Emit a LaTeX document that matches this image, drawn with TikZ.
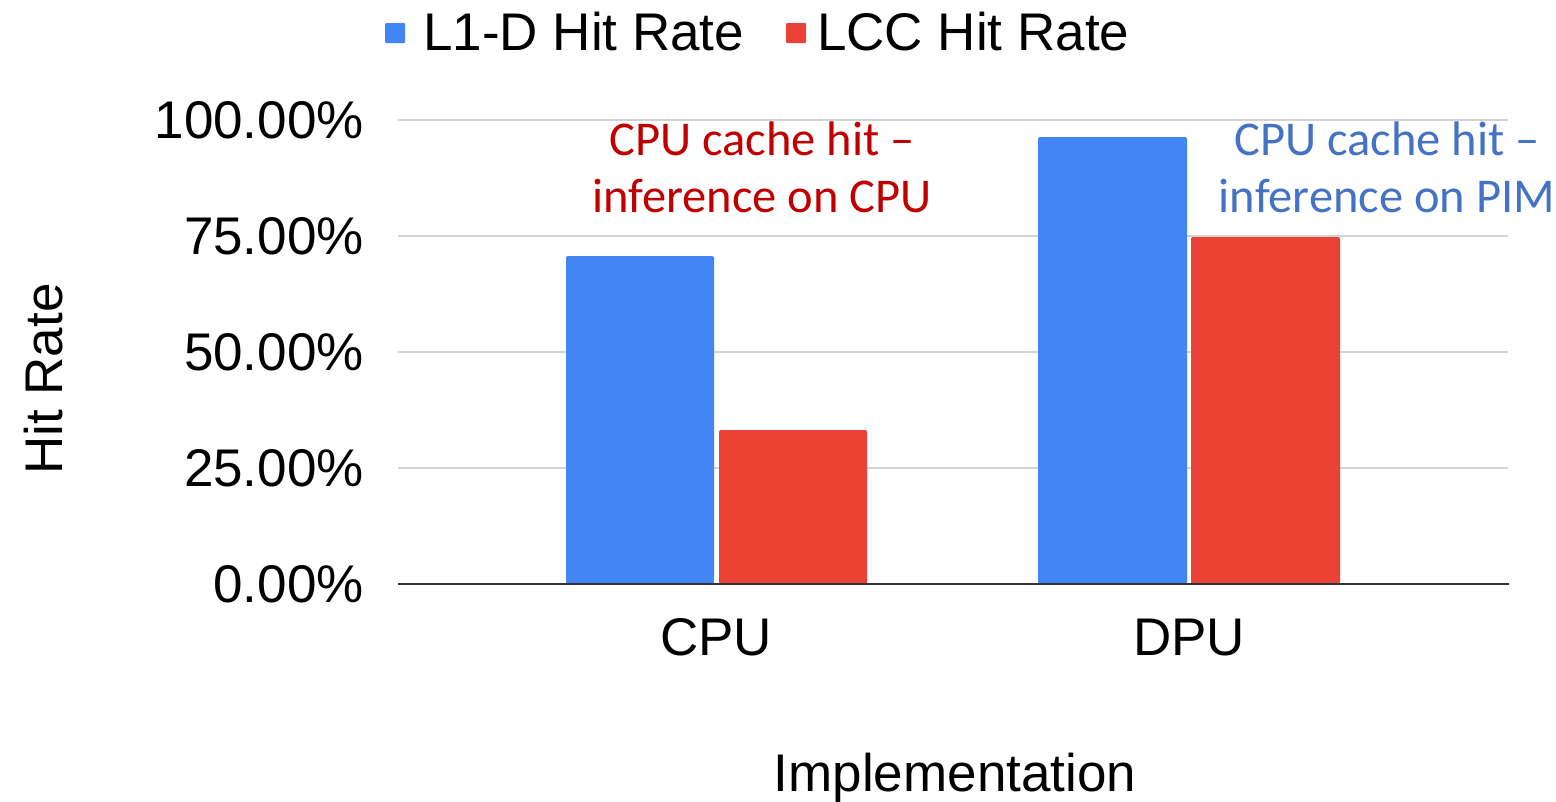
\documentclass[tikz,border=0pt]{standalone}
\usepackage{fontspec}
\setmainfont{Liberation Sans}
\newfontfamily\notefont{Carlito}
\definecolor{barblue}{HTML}{4285F4}
\definecolor{barred}{HTML}{EA4335}
\definecolor{gridgray}{HTML}{D3D3D3}
\definecolor{axisgray}{HTML}{333333}
\definecolor{notered}{HTML}{C00000}
\definecolor{noteblue}{HTML}{4472C4}

\begin{document}
\begin{tikzpicture}[x=1pt,y=-1pt,
  lbl/.style={font=\fontsize{53}{60}\selectfont, inner sep=0pt},
  note/.style={font=\notefont\fontsize{48.5}{57}\selectfont, align=center, inner sep=0pt},
  gridline/.style={draw=gridgray, line width=1.4pt},
  bar/.style={rounded corners=2pt},
  key/.style={rounded corners=1pt}
]
\useasboundingbox[fill=white] (0,0) rectangle (1556,801);

% horizontal grid lines and value labels
\foreach \yy/\txt/\nm in {120/100.00\%/t100, 236/75.00\%/t75, 352/50.00\%/t50, 468/25.00\%/t25}{
  \draw[gridline] (398,\yy) -- (1508,\yy);
  \node[lbl, anchor=base east] (\nm) at (364,\yy+18) {\txt};
}
\node[lbl, anchor=base east] (t0) at (364,602) {0.00\%};

% bars
\fill[barblue, bar] (566,584) rectangle (714,256);
\fill[barred,  bar] (719,584) rectangle (867,430);
\fill[barblue, bar] (1038,584) rectangle (1187,137);
\fill[barred,  bar] (1191,584) rectangle (1340,237);

% category axis
\draw[axisgray, line width=1.6pt] (398,584) -- (1509,584);
\node[lbl, anchor=base] (catcpu) at (716,655) {CPU};
\node[lbl, anchor=base] (catdpu) at (1189,655) {DPU};

% axis titles
\node[lbl, anchor=base] (xtitle) at (955,791) {Implementation};
\node[lbl, anchor=base, rotate=90] (ytitle) at (62,379) {Hit Rate};

% legend
\fill[barblue, key] (385,23) rectangle (405,43);
\node[lbl, anchor=base west] (leg1) at (423,50) {L1-D Hit Rate};
\fill[barred, key] (786,23) rectangle (806,43);
\node[lbl, anchor=base west] (leg2) at (817,50) {LCC Hit Rate};

% annotations (anchored on the baseline of their last line)
\node[note, text=notered, anchor=base] (notecpu) at (762,212) {CPU cache hit –\\inference on CPU};
\node[note, text=noteblue, anchor=base] (notepim) at (1387,212) {CPU cache hit –\\inference on PIM};
\end{tikzpicture}
\end{document}
